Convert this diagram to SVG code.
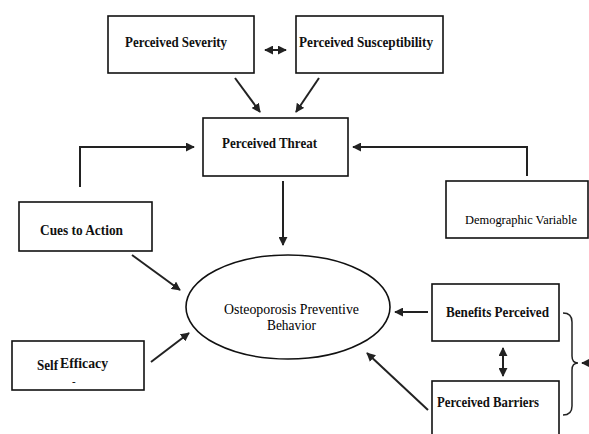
<svg xmlns="http://www.w3.org/2000/svg" width="589" height="434" viewBox="0 0 589 434">
<style>
.box{fill:#fff;stroke:#111;stroke-width:1.6}
.t{font-family:"Liberation Serif","Times New Roman",serif;font-size:14.5px;font-weight:bold;fill:#111}
.n{font-weight:normal;font-size:15px;fill:#000}
.c{fill:none;stroke:#222;stroke-width:2}
</style>
<defs>
<marker id="ah" viewBox="0 0 10 10" refX="9" refY="5" markerWidth="4.5" markerHeight="4.5" orient="auto-start-reverse">
<path d="M0,0 L10,5 L0,10 z" fill="#222"/>
</marker>
</defs>
<rect width="589" height="434" fill="#fff"/>
<g id="connectors">
<line class="c" x1="265" y1="50" x2="286" y2="50" marker-start="url(#ah)" marker-end="url(#ah)"/>
<line class="c" x1="235" y1="78" x2="260" y2="112" marker-end="url(#ah)"/>
<line class="c" x1="319" y1="78" x2="296" y2="112" marker-end="url(#ah)"/>
<polyline class="c" points="80,187 80,147 194,147" marker-end="url(#ah)"/>
<polyline class="c" points="527,176 527,147 353,147" marker-end="url(#ah)"/>
<line class="c" x1="283" y1="181" x2="283" y2="245" marker-end="url(#ah)"/>
<line class="c" x1="132" y1="255" x2="180" y2="290" marker-end="url(#ah)"/>
<line class="c" x1="151" y1="362" x2="189" y2="333" marker-end="url(#ah)"/>
<line class="c" x1="428" y1="312" x2="395" y2="312" marker-end="url(#ah)"/>
<line class="c" x1="503" y1="348" x2="503" y2="376" marker-start="url(#ah)" marker-end="url(#ah)"/>
<line class="c" x1="428" y1="410" x2="367" y2="353" marker-end="url(#ah)"/>
<path d="M563,313 Q572,313 572,322 L572,356 Q572,363 578,363 Q572,363 572,370 L572,406 Q572,415 563,415" fill="none" stroke="#222" stroke-width="1.5"/>
<line class="c" x1="589" y1="363" x2="582" y2="363" marker-end="url(#ah)"/>
</g>
<g id="severity">
<rect class="box" x="108" y="16" width="146" height="57"/>
<text class="t" x="125" y="47" textLength="102" lengthAdjust="spacingAndGlyphs">Perceived Severity</text>
</g>
<g id="susceptibility">
<rect class="box" x="296" y="16" width="147" height="57"/>
<text class="t" x="299" y="47" textLength="134" lengthAdjust="spacingAndGlyphs">Perceived Susceptibility</text>
</g>
<g id="threat">
<rect class="box" x="203" y="118" width="145" height="58"/>
<text class="t" x="222" y="148" textLength="95" lengthAdjust="spacingAndGlyphs">Perceived Threat</text>
</g>
<g id="cues">
<rect class="box" x="19" y="202" width="133" height="49"/>
<text class="t" x="40" y="235" textLength="83" lengthAdjust="spacingAndGlyphs">Cues to Action</text>
</g>
<g id="demographic">
<rect class="box" x="446" y="181" width="142" height="57"/>
<text class="t" x="465" y="224" style="font-size:13.5px;font-weight:normal;fill:#000" textLength="112" lengthAdjust="spacingAndGlyphs">Demographic Variable</text>
</g>
<g id="behavior">
<ellipse cx="288" cy="307" rx="102" ry="52" fill="#fff" stroke="#111" stroke-width="1.6"/>
<text class="t n" x="224" y="314" textLength="135" lengthAdjust="spacingAndGlyphs">Osteoporosis Preventive</text>
<text class="t n" x="267" y="330" textLength="49" lengthAdjust="spacingAndGlyphs">Behavior</text>
</g>
<g id="selfefficacy">
<rect class="box" x="12" y="341" width="132" height="49"/>
<text class="t" x="37" y="370" textLength="21" lengthAdjust="spacingAndGlyphs">Self</text>
<text class="t" x="60" y="368" textLength="48" lengthAdjust="spacingAndGlyphs">Efficacy</text>
<text class="t" x="72" y="385" style="font-size:11px">-</text>
</g>
<g id="benefits">
<rect class="box" x="432" y="284" width="127" height="57"/>
<text class="t" x="446" y="317" textLength="103" lengthAdjust="spacingAndGlyphs">Benefits Perceived</text>
</g>
<g id="barriers">
<rect class="box" x="432" y="381" width="127" height="60"/>
<text class="t" x="437" y="407" textLength="102" lengthAdjust="spacingAndGlyphs">Perceived Barriers</text>
</g>
</svg>
